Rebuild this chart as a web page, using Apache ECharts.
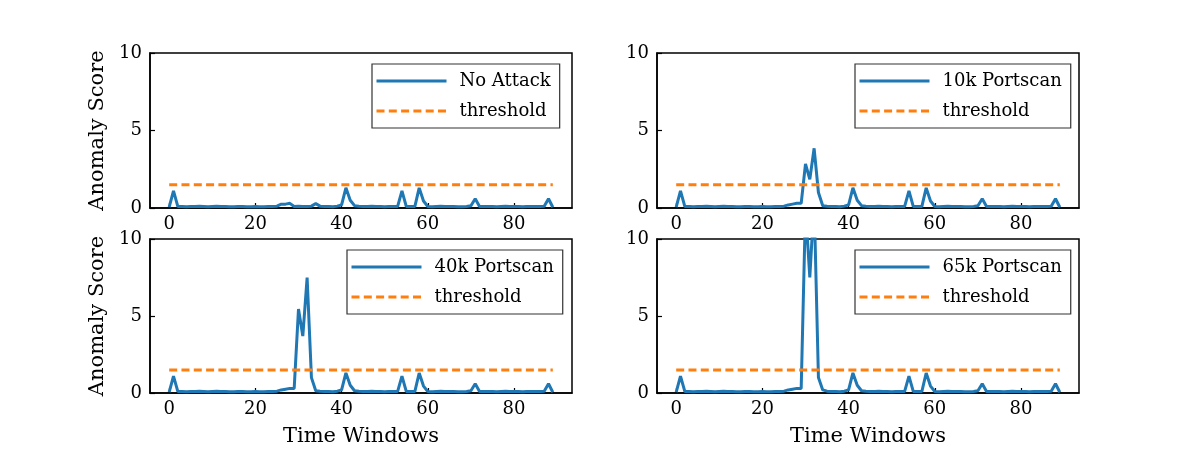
<!DOCTYPE html>
<html>
<head>
<meta charset="utf-8">
<script src="https://cdn.jsdelivr.net/npm/echarts@6/dist/echarts.min.js"></script>
<style>
  html, body { margin: 0; background: #fff; }
  #main { width: 1200px; height: 450px; }
</style>
</head>
<body>
<div id="main"></div>
<script>
// x tick labels and the threshold level
const xTicks = [0, 20, 40, 60, 80];
const threshold = 1.5;

// anomaly score per time window (0..89)
const noAttack = [
  0.05, 1.1, 0.1, 0.1, 0.08, 0.1, 0.1, 0.12, 0.1, 0.08,
  0.1, 0.12, 0.1, 0.1, 0.08, 0.08, 0.1, 0.1, 0.08, 0.08,
  0.1, 0.08, 0.08, 0.1, 0.1, 0.12, 0.25, 0.25, 0.3, 0.1,
  0.12, 0.1, 0.1, 0.12, 0.28, 0.12, 0.1, 0.1, 0.08, 0.12,
  0.2, 1.3, 0.5, 0.15, 0.12, 0.1, 0.1, 0.12, 0.1, 0.1,
  0.08, 0.1, 0.1, 0.1, 1.1, 0.1, 0.1, 0.1, 1.3, 0.45,
  0.1, 0.08, 0.1, 0.12, 0.1, 0.1, 0.1, 0.08, 0.08, 0.1,
  0.15, 0.6, 0.1, 0.1, 0.1, 0.1, 0.08, 0.1, 0.12, 0.1,
  0.1, 0.1, 0.08, 0.1, 0.1, 0.1, 0.1, 0.12, 0.6, 0.05
];
const portscan10k = [
  0.05, 1.1, 0.1, 0.1, 0.08, 0.1, 0.1, 0.12, 0.1, 0.08,
  0.1, 0.12, 0.1, 0.1, 0.08, 0.08, 0.1, 0.1, 0.08, 0.08,
  0.1, 0.08, 0.08, 0.1, 0.1, 0.12, 0.2, 0.25, 0.3, 0.3,
  2.85, 1.85, 3.85, 1.0, 0.15, 0.12, 0.1, 0.1, 0.08, 0.12,
  0.2, 1.3, 0.5, 0.15, 0.12, 0.1, 0.1, 0.12, 0.1, 0.1,
  0.08, 0.1, 0.1, 0.1, 1.1, 0.1, 0.1, 0.1, 1.3, 0.45,
  0.1, 0.08, 0.1, 0.12, 0.1, 0.1, 0.1, 0.08, 0.08, 0.1,
  0.15, 0.6, 0.1, 0.1, 0.1, 0.1, 0.08, 0.1, 0.12, 0.1,
  0.1, 0.1, 0.08, 0.1, 0.1, 0.1, 0.1, 0.12, 0.6, 0.05
];
const portscan40k = [
  0.05, 1.1, 0.1, 0.1, 0.08, 0.1, 0.1, 0.12, 0.1, 0.08,
  0.1, 0.12, 0.1, 0.1, 0.08, 0.08, 0.1, 0.1, 0.08, 0.08,
  0.1, 0.08, 0.08, 0.1, 0.1, 0.12, 0.2, 0.25, 0.3, 0.3,
  5.45, 3.7, 7.5, 1.0, 0.15, 0.12, 0.1, 0.1, 0.08, 0.12,
  0.2, 1.3, 0.5, 0.15, 0.12, 0.1, 0.1, 0.12, 0.1, 0.1,
  0.08, 0.1, 0.1, 0.1, 1.1, 0.1, 0.1, 0.1, 1.3, 0.45,
  0.1, 0.08, 0.1, 0.12, 0.1, 0.1, 0.1, 0.08, 0.08, 0.1,
  0.15, 0.6, 0.1, 0.1, 0.1, 0.1, 0.08, 0.1, 0.12, 0.1,
  0.1, 0.1, 0.08, 0.1, 0.1, 0.1, 0.1, 0.12, 0.6, 0.05
];
const portscan65k = [
  0.05, 1.1, 0.1, 0.1, 0.08, 0.1, 0.1, 0.12, 0.1, 0.08,
  0.1, 0.12, 0.1, 0.1, 0.08, 0.08, 0.1, 0.1, 0.08, 0.08,
  0.1, 0.08, 0.08, 0.1, 0.1, 0.12, 0.2, 0.25, 0.3, 0.3,
  12, 7.5, 12.5, 1.0, 0.2, 0.12, 0.1, 0.1, 0.08, 0.12,
  0.2, 1.3, 0.5, 0.15, 0.12, 0.1, 0.1, 0.12, 0.1, 0.1,
  0.08, 0.1, 0.1, 0.1, 1.1, 0.1, 0.1, 0.1, 1.3, 0.45,
  0.1, 0.08, 0.1, 0.12, 0.1, 0.1, 0.1, 0.08, 0.08, 0.1,
  0.15, 0.6, 0.1, 0.1, 0.1, 0.1, 0.08, 0.1, 0.12, 0.1,
  0.1, 0.1, 0.08, 0.1, 0.1, 0.1, 0.1, 0.12, 0.6, 0.05
];
const panelNames = ['No Attack', '10k Portscan', '40k Portscan', '65k Portscan'];
const panelScores = [noAttack, portscan10k, portscan40k, portscan65k];

const FONT = 'DejaVu Serif';
const BLUE = '#1f77b4';
const ORANGE = '#ff7f0e';
const scoreLine = { color: BLUE, width: 3 };
const thresholdLine = { color: ORANGE, width: 3, type: [8, 4.3] };

// panel boxes: [left, top, width, height]
const boxes = [
  [150, 53, 422, 155],
  [657, 53, 422, 155],
  [150, 239, 422, 154],
  [657, 239, 422, 154]
];
const legendPos = [[372, 64], [855, 64], [347, 250], [855, 250]];

const chart = echarts.init(document.getElementById('main'), null, { renderer: 'canvas' });

const grids = [], xAxes = [], yAxes = [], series = [], legends = [];
boxes.forEach(function (b, i) {
  grids.push({
    left: b[0], top: b[1], width: b[2], height: b[3],
    show: true, borderColor: '#000', borderWidth: 1.5, backgroundColor: 'transparent'
  });
  const last = panelScores[i].length - 1;
  xAxes.push({
    type: 'value', gridIndex: i,
    min: -0.05 * last, max: last * 1.05,
    name: i >= 2 ? 'Time Windows' : '',
    nameLocation: 'middle', nameGap: 33,
    nameTextStyle: { fontFamily: FONT, fontSize: 21, color: '#000' },
    axisLine: { show: true, onZero: false, lineStyle: { color: '#000', width: 1.5 } },
    axisTick: { show: true, inside: true, length: 5, customValues: xTicks, lineStyle: { color: '#000', width: 1.2 } },
    axisLabel: { customValues: xTicks, margin: 7, fontFamily: FONT, fontSize: 18, color: '#000' },
    splitLine: { show: false }
  });
  yAxes.push({
    type: 'value', gridIndex: i,
    min: 0, max: 10, interval: 5,
    name: i % 2 === 0 ? 'Anomaly Score' : '',
    nameLocation: 'middle', nameGap: 42,
    nameTextStyle: { fontFamily: FONT, fontSize: 21, color: '#000' },
    axisLine: { show: true, onZero: false, lineStyle: { color: '#000', width: 1.5 } },
    axisTick: { show: true, inside: true, length: 5, lineStyle: { color: '#000', width: 1.2 } },
    axisLabel: { margin: 8, fontFamily: FONT, fontSize: 18, color: '#000' },
    splitLine: { show: false }
  });
  series.push({
    name: panelNames[i], type: 'line',
    xAxisIndex: i, yAxisIndex: i,
    data: panelScores[i].map(function (v, k) { return [k, v]; }),
    symbol: 'none', clip: true,
    itemStyle: { color: BLUE },
    lineStyle: scoreLine,
    z: 3
  });
  series.push({
    name: 'threshold', type: 'line',
    xAxisIndex: i, yAxisIndex: i,
    data: [[0, threshold], [last, threshold]],
    symbol: 'none',
    itemStyle: { color: ORANGE },
    lineStyle: thresholdLine,
    z: 4
  });
  legends.push({
    data: [
      { name: panelNames[i], lineStyle: scoreLine, itemStyle: { opacity: 0 } },
      { name: 'threshold', lineStyle: thresholdLine, itemStyle: { opacity: 0 } }
    ],
    left: legendPos[i][0], top: legendPos[i][1],
    orient: 'vertical',
    backgroundColor: '#fff',
    borderColor: '#333', borderWidth: 1.2, borderRadius: 0,
    padding: [8, 9, 8, 3],
    itemWidth: 70, itemHeight: 14, itemGap: 12,
    selectedMode: false,
    itemStyle: { opacity: 0 },
    textStyle: { fontFamily: FONT, fontSize: 18, color: '#000', padding: [0, 0, 0, 8] }
  });
});

chart.setOption({
  backgroundColor: '#fff',
  animation: false,
  grid: grids,
  xAxis: xAxes,
  yAxis: yAxes,
  legend: legends,
  series: series
});
</script>
</body>
</html>
